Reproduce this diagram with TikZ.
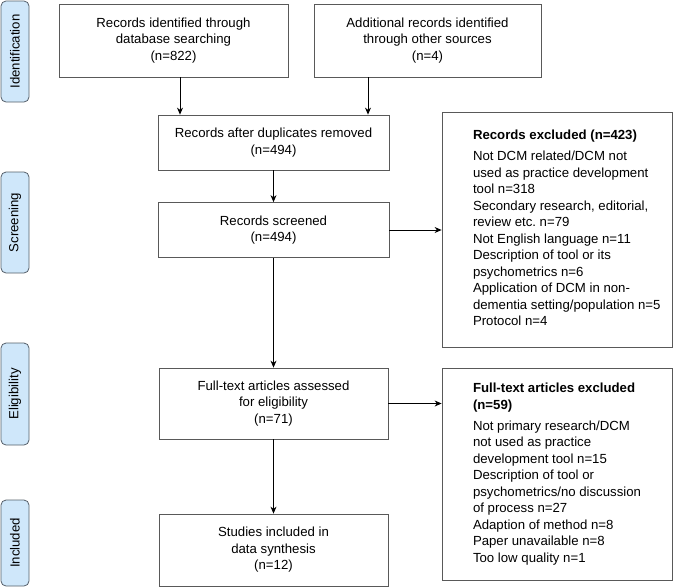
\documentclass[tikz,border=0pt]{standalone}
\usepackage{fontspec}
\setmainfont{Liberation Sans}
\usetikzlibrary{arrows.meta}
\definecolor{phasefill}{RGB}{207,231,250}
\definecolor{phaseline}{RGB}{85,95,105}

\begin{document}
\begin{tikzpicture}[x=1pt, y=-1pt, >={Stealth[length=7pt, width=6pt]},
	flowbox/.style={draw=black!65, line width=0.8pt, align=center, inner sep=0pt,
		font=\fontsize{13.2}{16.5}\selectfont},
	exclbox/.style={flowbox, minimum width=230},
	phase/.style={draw=phaseline, fill=phasefill, line width=0.8pt, rounded corners=5pt,
		rotate=90, minimum height=28, inner sep=0pt, font=\fontsize{13.2}{16}\selectfont}]

		\useasboundingbox (0,0) rectangle (676,587);

		% phase labels
		\foreach \l/\y/\h [count=\i] in {Identification/51.5/101, Screening/222.5/101, Eligibility/394/102, Included/543/86}
			\node [phase, minimum width=\h] (phase-\i) at (15,\y) {\l};

		% identification
		\node [flowbox, minimum width=229, minimum height=73] (db) at (173.5,40.5)
			{Records identified through\\ database searching\\ (n=822)};
		\node [flowbox, minimum width=227, minimum height=73] (other) at (427.5,40.5)
			{Additional records identified\\ through other sources\\ (n=4)};

		% screening
		\node [flowbox, minimum width=231, minimum height=55] (dup) at (273.5,142.5)
			{Records after duplicates removed\\ (n=494)};
		\node [flowbox, minimum width=231, minimum height=55] (screened) at (273.5,230)
			{Records screened\\ (n=494)};
		\node [exclbox, minimum height=235] (excl-1) at (557,229.5)
			{\begin{tabular}{@{\hspace{31pt}}p{190pt}@{\hspace{9pt}}}
			\textbf{Records excluded (n=423)}\\[4.5pt]
			Not DCM related/DCM not\\ used as practice development\\ tool n=318\\
			Secondary research, editorial,\\ review etc.\ n=79\\
			Not English language n=11\\
			Description of tool or its\\ psychometrics n=6\\
			Application of DCM in non-\\ dementia setting/population n=5\\
			Protocol n=4
			\end{tabular}};

		% eligibility
		\node [flowbox, minimum width=229, minimum height=71] (fulltext) at (273.5,403.5)
			{Full-text articles assessed\\ for eligibility\\ (n=71)};
		\node [exclbox, minimum height=212] (excl-2) at (557,474)
			{\begin{tabular}{@{\hspace{31pt}}p{190pt}@{\hspace{9pt}}}
			\textbf{Full-text articles excluded}\\ \textbf{(n=59)}\\[4.5pt]
			Not primary research/DCM\\ not used as practice\\ development tool n=15\\
			Description of tool or\\ psychometrics/no discussion\\ of process n=27\\
			Adaption of method n=8\\
			Paper unavailable n=8\\
			Too low quality n=1
			\end{tabular}};

		% included
		\node [flowbox, minimum width=229, minimum height=72] (included) at (273.5,550)
			{Studies included in\\ data synthesis\\ (n=12)};

		% arrows
		\coordinate (dup-in-1) at (180,0 |- dup.north);
		\coordinate (dup-in-2) at (368,0 |- dup.north);
		\foreach \s/\t in {db/dup-in-1, other/dup-in-2}
			\draw [->, line width=0.8pt] (\s.south -| \t) -- (\t);

		\foreach \s/\t in {dup/screened, screened/fulltext, fulltext/included}
			\draw [->, line width=0.8pt] (\s) -- (\t);

		\draw [->, line width=0.8pt] (screened.east) -- (screened.east -| excl-1.west);
		\draw [->, line width=0.8pt] (fulltext.east) -- (fulltext.east -| excl-2.west);

\end{tikzpicture}
\end{document}
